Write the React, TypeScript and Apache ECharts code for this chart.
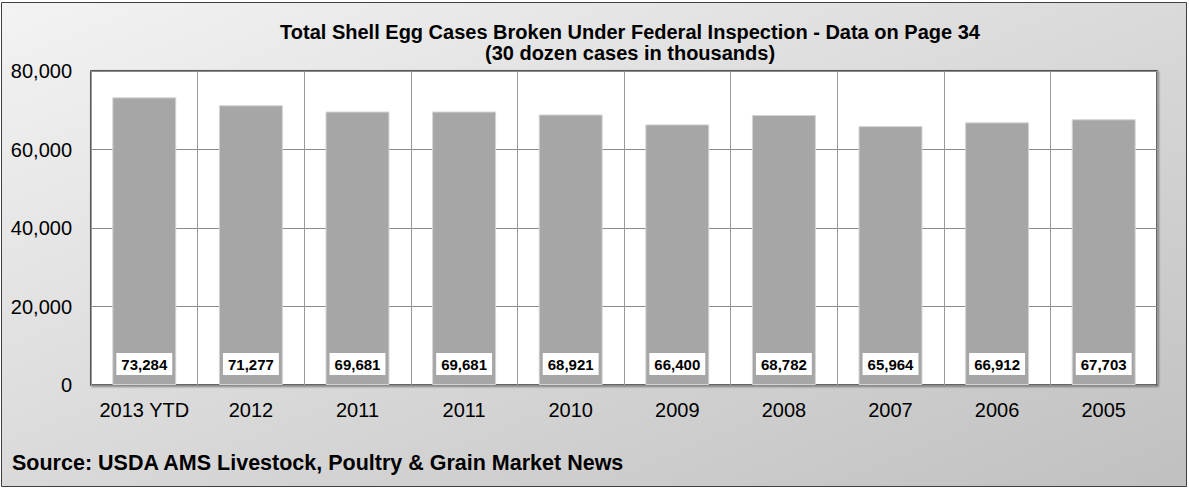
import React, { useEffect, useRef } from "react";
import * as echarts from "echarts";

const categories = ["2013 YTD", "2012", "2011", "2011", "2010", "2009", "2008", "2007", "2006", "2005"];
const values = [73284, 71277, 69681, 69681, 68921, 66400, 68782, 65964, 66912, 67703];
const titleLines = [
  "Total Shell Egg Cases Broken Under Federal Inspection - Data on Page 34",
  "(30 dozen cases in thousands)",
];
const sourceText = "Source: USDA AMS Livestock, Poultry & Grain Market News";

const FONT = "'Liberation Sans', Arial, sans-serif";

export default function App() {
  const ref = useRef<HTMLDivElement>(null);
  useEffect(() => {
    document.body.style.margin = "0";
    const chart = echarts.init(ref.current!, null, { renderer: "svg" });
    chart.setOption({
      animation: false,
      textStyle: { fontFamily: FONT },
      graphic: [
        {
          type: "rect",
          z: -10,
          silent: true,
          shape: { x: 1.5, y: 2.5, width: 1185, height: 484 },
          style: {
            fill: {
              type: "linear",
              x: 0,
              y: 0,
              x2: 1,
              y2: 1,
              colorStops: [
                { offset: 0, color: "#f3f3f3" },
                { offset: 1, color: "#c0c0c0" },
              ],
            },
            stroke: "#404040",
            lineWidth: 1,
          },
        },
        {
          type: "text",
          x: 630,
          y: 21,
          style: {
            text: titleLines.join("\n"),
            font: `bold 20px ${FONT}`,
            fill: "#000",
            align: "center",
            verticalAlign: "top",
            lineHeight: 21,
          },
        },
        {
          type: "text",
          x: 12,
          y: 463,
          style: {
            text: sourceText,
            font: `bold 21.5px ${FONT}`,
            fill: "#000",
            align: "left",
            verticalAlign: "middle",
          },
        },
      ],
      grid: {
        left: 91,
        right: 32,
        top: 71,
        bottom: 104,
        show: true,
        backgroundColor: "#ffffff",
        borderColor: "#333333",
        borderWidth: 1.5,
        shadowColor: "rgba(0,0,0,0.45)",
        shadowBlur: 2,
        shadowOffsetX: 1,
        shadowOffsetY: 1,
      },
      xAxis: {
        type: "category",
        data: categories,
        boundaryGap: true,
        axisLine: { show: false },
        axisTick: { show: false },
        axisLabel: { fontSize: 20, color: "#000", margin: 15, fontFamily: FONT, interval: 0 },
        splitLine: { show: true, lineStyle: { color: "#9a9a9a", width: 1 } },
      },
      yAxis: {
        type: "value",
        min: 0,
        max: 80000,
        interval: 20000,
        axisLine: { show: false },
        axisTick: { show: false },
        axisLabel: {
          fontSize: 20,
          color: "#000",
          margin: 19,
          fontFamily: FONT,
          formatter: (v: number) => v.toLocaleString("en-US"),
        },
        splitLine: { show: true, lineStyle: { color: "#8a8a8a", width: 1 } },
      },
      series: [
        {
          type: "bar",
          data: values,
          barCategoryGap: "40%",
          itemStyle: { color: "#a6a6a6", borderColor: "#d4d4d4", borderWidth: 1 },
          label: {
            show: true,
            position: "insideBottom",
            distance: 10,
            formatter: (p: any) => Number(p.value).toLocaleString("en-US"),
            fontSize: 15,
            fontWeight: "bold",
            color: "#000",
            fontFamily: FONT,
            backgroundColor: "#ffffff",
            padding: [4, 5, 3, 5],
          },
        },
      ],
    });
    return () => chart.dispose();
  }, []);
  return <div ref={ref} style={{ width: 1189, height: 489 }} />;
}
